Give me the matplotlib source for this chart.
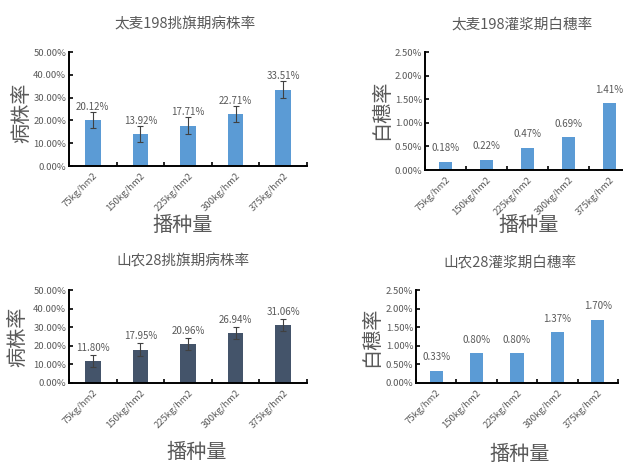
import matplotlib
matplotlib.use("Agg")
import matplotlib.pyplot as plt
import numpy as np

plt.rcParams['font.family'] = ['Noto Sans CJK SC', 'DejaVu Sans']

categories = ["75kg/hm2", "150kg/hm2", "225kg/hm2", "300kg/hm2", "375kg/hm2"]

tm_disease = [20.12, 13.92, 17.71, 22.71, 33.51]
tm_disease_err = [3.6, 3.6, 3.6, 3.5, 3.6]
tm_white = [0.18, 0.22, 0.47, 0.69, 1.41]
sn_disease = [11.80, 17.95, 20.96, 26.94, 31.06]
sn_disease_err = [3.2, 3.3, 3.3, 3.3, 3.3]
sn_white = [0.33, 0.80, 0.80, 1.37, 1.70]

titles = ["太麦198挑旗期病株率", "太麦198灌浆期白穗率", "山农28挑旗期病株率", "山农28灌浆期白穗率"]
ylabels = ["病株率", "白穗率", "病株率", "白穗率"]
xlabel = "播种量"

W, H = 623, 466
fig = plt.figure(figsize=(W / 100, H / 100), dpi=100)
GRAY = "#595959"
BLUE = "#5B9BD5"
NAVY = "#44546A"


def px_rect(l, r, t, b):
    return [l / W, 1 - b / H, (r - l) / W, (b - t) / H]


panels = [
    dict(rect=(69, 307, 52, 166), vals=tm_disease, err=tm_disease_err, color=BLUE, ymax=50,
         step=10, title_xy=(185, 24), ylab_xy=(22, 113), xlab_xy=(183, 225)),
    dict(rect=(425, 630, 52, 170), vals=tm_white, err=None, color=BLUE, ymax=2.5,
         step=0.5, title_xy=(522, 25), ylab_xy=(382, 110), xlab_xy=(529, 225)),
    dict(rect=(69, 307, 290, 383), vals=sn_disease, err=sn_disease_err, color=NAVY, ymax=50,
         step=10, title_xy=(183, 261), ylab_xy=(18, 337), xlab_xy=(197, 452)),
    dict(rect=(416, 618, 290, 383), vals=sn_white, err=None, color=BLUE, ymax=2.5,
         step=0.5, title_xy=(510, 262), ylab_xy=(372, 337), xlab_xy=(520, 454)),
]

for i, p in enumerate(panels):
    ax = fig.add_axes(px_rect(*p['rect']))
    x = np.arange(len(categories))
    ax.bar(x, p['vals'], width=0.33, color=p['color'], zorder=2)
    if p['err'] is not None:
        ax.errorbar(x, p['vals'], yerr=p['err'], fmt='none', ecolor='#404040',
                    elinewidth=0.8, capsize=2, capthick=0.8, zorder=3)
    for xi, v in zip(x, p['vals']):
        fmt = "{:.2f}%".format(v)
        ax.annotate(fmt, (xi, v), xytext=(0, 6), textcoords='offset points',
                    ha='center', va='bottom', fontsize=7, color=GRAY, zorder=4)
    ax.set_xlim(-0.5, len(categories) - 0.5)
    ax.set_ylim(0, p['ymax'])
    yt = np.arange(0, p['ymax'] + p['step'] / 2, p['step'])
    ax.set_yticks(yt)
    ax.set_yticklabels(["{:.2f}%".format(t) for t in yt], fontsize=6.8, color=GRAY)
    ax.set_xticks(x)
    ax.set_xticklabels(categories, rotation=45, ha='right', rotation_mode='anchor',
                       fontsize=6.8, color=GRAY)
    ax.set_xticks(np.arange(-0.5, len(categories)), minor=True)
    ax.tick_params(axis='x', which='major', length=0, pad=4)
    ax.tick_params(axis='x', which='minor', direction='in', length=3, width=1.2, color='black')
    ax.tick_params(axis='y', direction='in', length=3, width=1.2, color='black', pad=2)
    for s in ['top', 'right']:
        ax.spines[s].set_visible(False)
    for s in ['left', 'bottom']:
        ax.spines[s].set_linewidth(1.4)
        ax.spines[s].set_color('black')
    ax.patch.set_alpha(0)

    tx, ty = p['title_xy']
    fig.text(tx / W, 1 - ty / H, titles[i], ha='center', va='center', fontsize=10.5, color=GRAY)
    lx, ly = p['ylab_xy']
    fig.text(lx / W, 1 - ly / H, ylabels[i], ha='center', va='center', fontsize=14.5,
             color=GRAY, rotation=90)
    xx, xy = p['xlab_xy']
    fig.text(xx / W, 1 - xy / H, xlabel, ha='center', va='center', fontsize=14.5, color=GRAY)

fig.savefig("out.png", dpi=100)
